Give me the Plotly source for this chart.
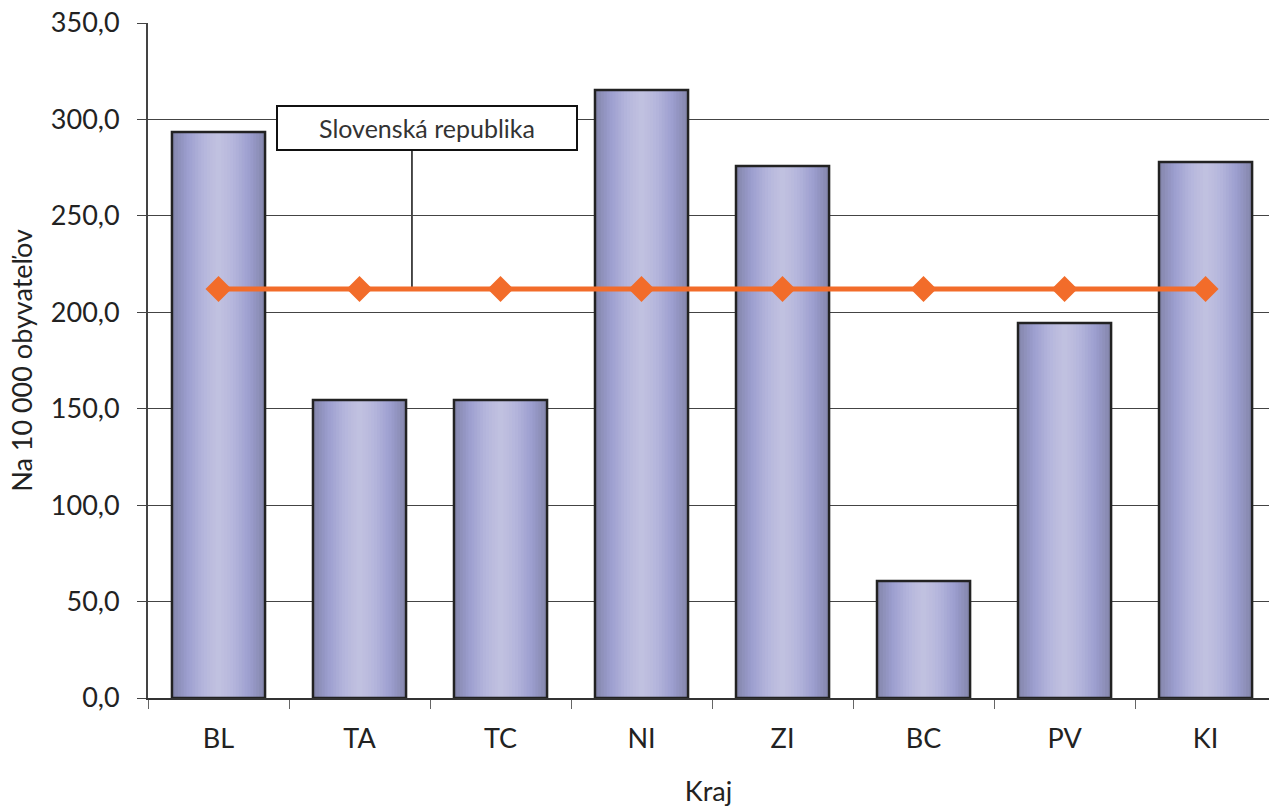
import numpy as np
import plotly.graph_objects as go

# data
kraje = ["BL", "TA", "TC", "NI", "ZI", "BC", "PV", "KI"]
hodnoty = [293.5, 154.5, 154.5, 315.3, 275.8, 60.7, 194.4, 277.9]
sr_priemer = [212.1] * len(kraje)
y_ticks = [0, 50, 100, 150, 200, 250, 300, 350]
y_ticktext = ["0,0", "50,0", "100,0", "150,0", "200,0", "250,0", "300,0", "350,0"]

FONT = "Lato"
BAR_W = 0.66

fig = go.Figure()

# horizontal gradient on the bars: nested overlay bars, edge colour -> centre colour
def hex2rgb(h):
    return np.array([int(h[i:i + 2], 16) for i in (1, 3, 5)], dtype=float)

stops_d = [0.0, 0.35, 0.7, 1.0]           # 0 = centre, 1 = edge
stops_c = [hex2rgb(c) for c in ("#c3c3e1", "#b5b6dc", "#9c9ecf", "#8587ad")]
steps = 16
for k in range(steps):
    d = 1 - k / steps
    rgb = [np.interp(d, stops_d, [c[j] for c in stops_c]) for j in range(3)]
    col = "rgb(%d,%d,%d)" % tuple(int(round(v)) for v in rgb)
    fig.add_trace(go.Bar(
        x=kraje, y=hodnoty, width=BAR_W * d,
        marker=dict(color=col, line=dict(width=0)),
        hoverinfo="skip", showlegend=False
    ))

# outline
fig.add_trace(go.Bar(
    x=kraje, y=hodnoty, width=BAR_W,
    marker=dict(color="rgba(0,0,0,0)", line=dict(color="#222222", width=2.5)),
    name="Kraj", showlegend=False
))

fig.add_trace(go.Scatter(
    x=kraje, y=sr_priemer, mode="lines+markers",
    line=dict(color="#f26c2a", width=5),
    marker=dict(symbol="diamond", size=20, color="#f26c2a"),
    name="Slovenská republika", showlegend=False
))

# label box and its connector
fig.add_annotation(
    x=1.482, y=295.5, xref="x", yref="y",
    text="Slovenská republika", showarrow=False,
    font=dict(family=FONT, size=25, color="#333333"),
    width=296, height=40, borderpad=1,
    bordercolor="#111111", borderwidth=2, bgcolor="white"
)
fig.add_shape(type="line", xref="x", yref="y",
              x0=1.372, x1=1.372, y0=sr_priemer[0], y1=284.0,
              line=dict(color="#111111", width=1.5), layer="below")

fig.update_layout(
    width=1269, height=807,
    margin=dict(l=148, r=0, t=23, b=109, autoexpand=False),
    plot_bgcolor="white", paper_bgcolor="white",
    barmode="overlay",
    font=dict(family=FONT, size=27, color="#222222"),
    xaxis=dict(
        type="category", range=[-0.5, 7.45], automargin=False,
        tickson="boundaries", ticks="outside", ticklen=9, tickcolor="#666666",
        ticklabelstandoff=16,
        showline=True, linecolor="#333333", linewidth=1.5,
        showgrid=False, tickfont=dict(size=27),
        title=dict(text="Kraj", font=dict(size=27), standoff=30)
    ),
    yaxis=dict(
        range=[0, 350], tickvals=y_ticks, ticktext=y_ticktext, automargin=False,
        ticks="outside", ticklen=9, tickcolor="#444444",
        ticklabelstandoff=12, ticklabeloverflow="allow",
        showline=True, linecolor="#444444", linewidth=2,
        showgrid=True, gridcolor="#444444", gridwidth=1,
        zeroline=False, tickfont=dict(size=27),
        title=dict(text="Na 10 000 obyvateľov", font=dict(size=27), standoff=10)
    ),
)

# drop the default page margin so the figure sits at the window's top-left corner
fig.write_html("out.html", config={"displayModeBar": False},
               post_script="document.body.style.margin='0';")
